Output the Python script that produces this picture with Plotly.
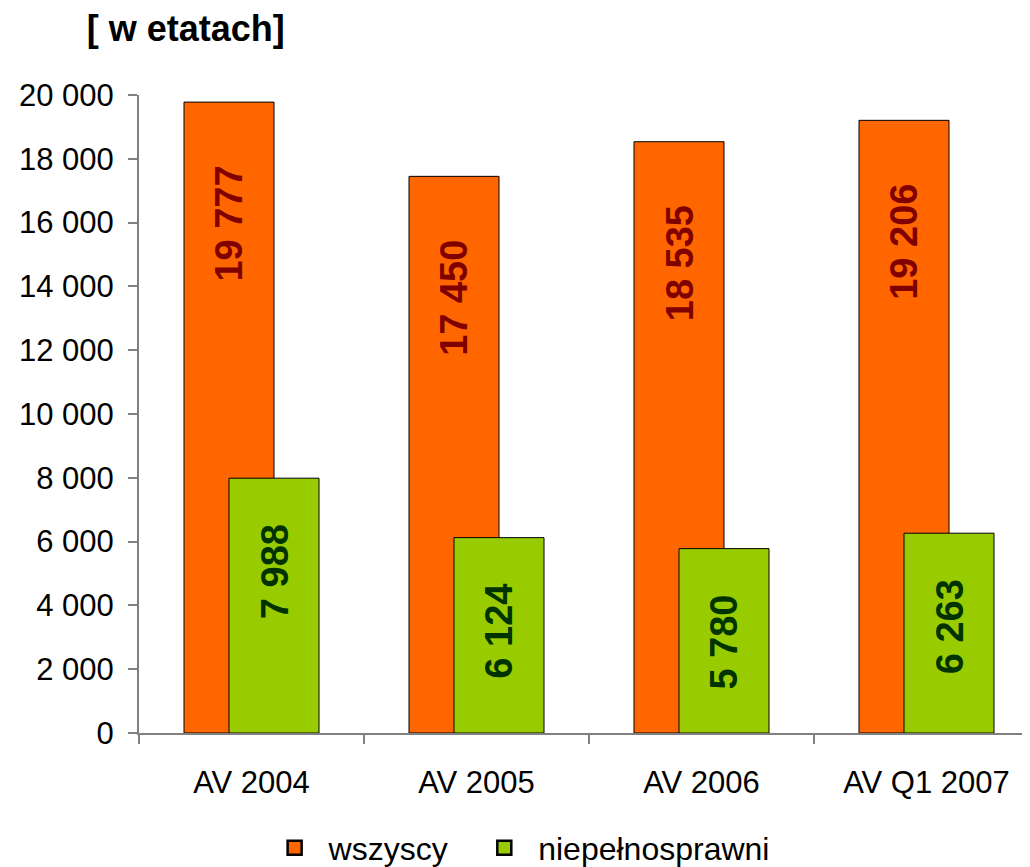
import plotly.graph_objects as go

categories = ["AV 2004", "AV 2005", "AV 2006", "AV Q1 2007"]
wszyscy = [19777, 17450, 18535, 19206]
niepelnosprawni = [7988, 6124, 5780, 6263]
series_names = ["wszyscy", "niepełnosprawni"]
y_ticks = list(range(0, 20001, 2000))

FONT = "Arial, Liberation Sans, sans-serif"
ORANGE = "#FF6600"
GREEN = "#99CC00"
ORANGE_TXT = "#800000"
GREEN_TXT = "#003300"
AXIS = "#808080"

def fmt(v):
    return f"{v:,}".replace(",", " ")

fig = go.Figure()
fig.add_trace(go.Bar(
    x=categories, y=wszyscy, name=series_names[0], showlegend=False,
    width=0.4, offset=-0.3,
    marker=dict(color=ORANGE, line=dict(color="black", width=1)),
))
fig.add_trace(go.Bar(
    x=categories, y=niepelnosprawni, name=series_names[1], showlegend=False,
    width=0.4, offset=-0.1,
    marker=dict(color=GREEN, line=dict(color="black", width=1)),
))
# legend entries with bordered squares (trailing nbsp widens the gap between entries)
legend_pad = ["\u00a0\u00a0\u00a0", ""]
for name, col, pad in zip(series_names, [ORANGE, GREEN], legend_pad):
    fig.add_trace(go.Scatter(
        x=[None], y=[None], mode="markers", name="\u00a0" + name + pad,
        marker=dict(symbol="square", size=14, color=col, line=dict(color="black", width=2.5)),
    ))

annotations = []
for c, v in zip(categories, wszyscy):
    annotations.append(dict(
        x=c, y=v, xref="x", yref="y", text=f"<b>{fmt(v)}</b>", showarrow=False,
        textangle=-90, xanchor="center", yanchor="top", xshift=-22, yshift=-62,
        font=dict(family=FONT, size=38, color=ORANGE_TXT),
    ))
for c, v in zip(categories, niepelnosprawni):
    annotations.append(dict(
        x=c, y=v, xref="x", yref="y", text=f"<b>{fmt(v)}</b>", showarrow=False,
        textangle=-90, xanchor="center", yanchor="top", xshift=23, yshift=-44,
        font=dict(family=FONT, size=38, color=GREEN_TXT),
    ))

fig.update_layout(
    width=1022, height=859,
    barmode="overlay",
    plot_bgcolor="white", paper_bgcolor="white",
    margin=dict(l=131, r=0, t=87, b=134, autoexpand=False),
    font=dict(family=FONT, size=30, color="black"),
    separators=", ",
    title=dict(text="<b>[ w etatach]</b>", x=0.077, xanchor="left", xref="container",
               y=0.976, yanchor="middle", yref="container",
               font=dict(family=FONT, size=36, color="black")),
    annotations=annotations,
    legend=dict(orientation="h", xref="paper", x=0.43, xanchor="center",
                yref="paper", y=-0.18, yanchor="middle",
                font=dict(family=FONT, size=32, color="black"),
                itemwidth=40, tracegroupgap=0, traceorder="normal"),
    showlegend=True,
)
fig.update_xaxes(
    type="category", range=[-0.5, 3.46], automargin=False,
    showline=True, linecolor=AXIS, linewidth=2,
    ticks="outside", tickson="boundaries", ticklen=9, tickcolor=AXIS, tickwidth=2,
    ticklabelstandoff=21,
    tickfont=dict(family=FONT, size=31, color="black"),
    showgrid=False, zeroline=False,
)
fig.update_yaxes(
    range=[0, 20000], tickvals=y_ticks, tickformat=",d", automargin=False,
    showline=True, linecolor=AXIS, linewidth=2,
    ticks="outside", ticklen=9, tickcolor=AXIS, tickwidth=2,
    ticklabelstandoff=8,
    tickfont=dict(family=FONT, size=31, color="black"),
    showgrid=False, zeroline=False,
)

fig.write_html("out.html")
